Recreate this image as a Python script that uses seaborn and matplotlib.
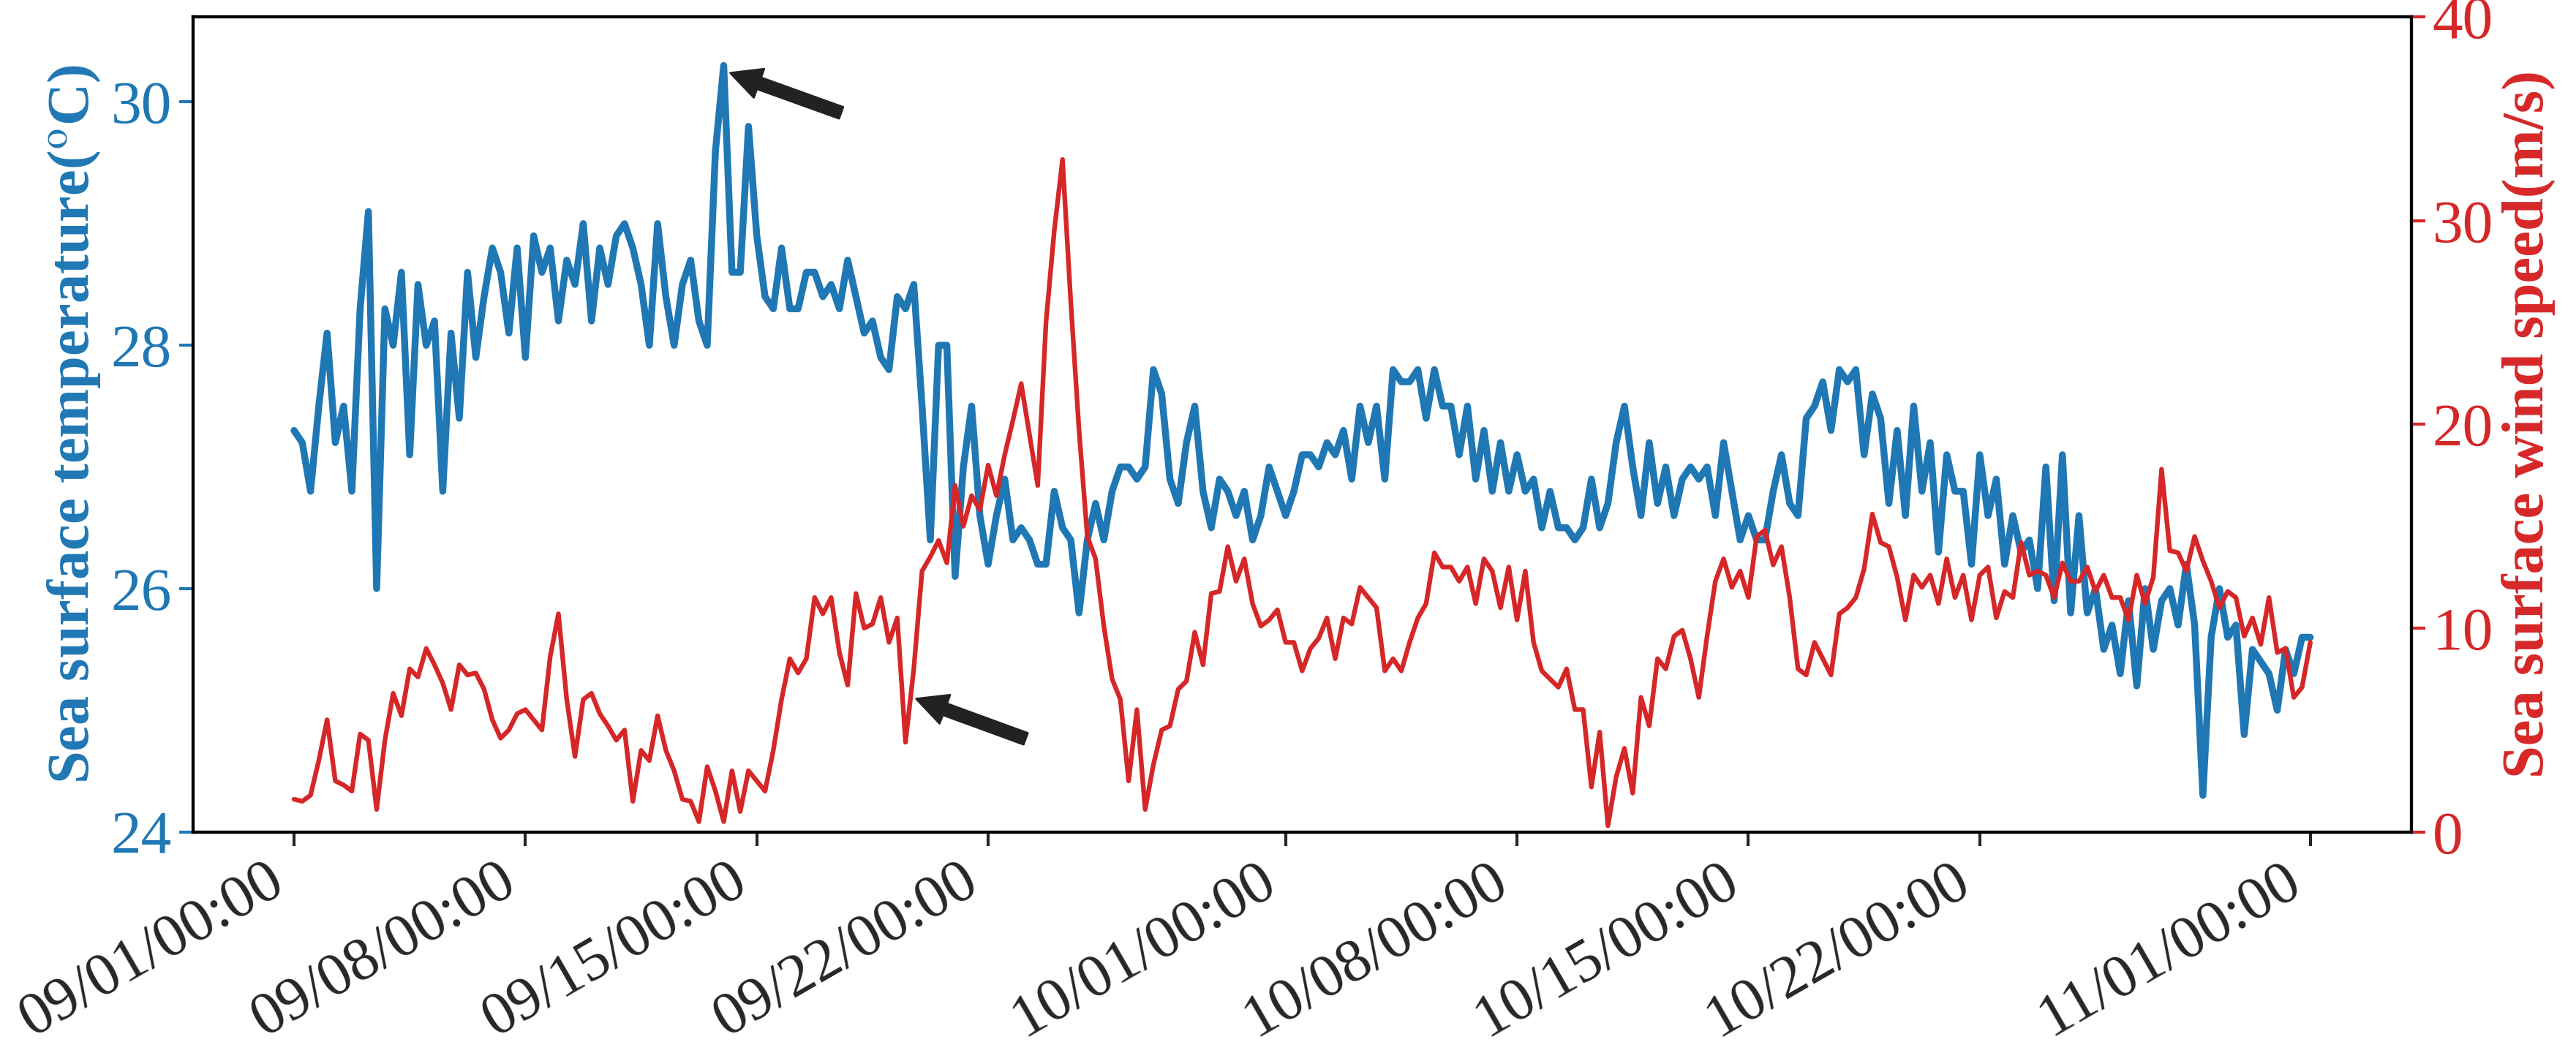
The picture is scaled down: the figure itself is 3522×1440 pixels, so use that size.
import numpy as np
import pandas as pd
import matplotlib
matplotlib.use("Agg")
import matplotlib.pyplot as plt
import matplotlib.dates as mdates
import seaborn as sns

# sea surface temperature, 4 readings per day (00, 06, 12, 18h), 09/01 -> 11/01
sst = [
    27.3, 27.2, 26.8, 27.5,   # 09/01
    28.1, 27.2, 27.5, 26.8,
    28.3, 29.1, 26.0, 28.3,
    28.0, 28.6, 27.1, 28.5,
    28.0, 28.2, 26.8, 28.1,
    27.4, 28.6, 27.9, 28.4,
    28.8, 28.6, 28.1, 28.8,
    27.9, 28.9, 28.6, 28.8,   # 09/08
    28.2, 28.7, 28.5, 29.0,
    28.2, 28.8, 28.5, 28.9,
    29.0, 28.8, 28.5, 28.0,
    29.0, 28.4, 28.0, 28.5,
    28.7, 28.2, 28.0, 29.6,
    30.3, 28.6, 28.6, 29.8,
    28.9, 28.4, 28.3, 28.8,   # 09/15
    28.3, 28.3, 28.6, 28.6,
    28.4, 28.5, 28.3, 28.7,
    28.4, 28.1, 28.2, 27.9,
    27.8, 28.4, 28.3, 28.5,
    27.5, 26.4, 28.0, 28.0,
    26.1, 27.0, 27.5, 26.6,
    26.2, 26.6, 26.9, 26.4,   # 09/22
    26.5, 26.4, 26.2, 26.2,
    26.8, 26.5, 26.4, 25.8,
    26.4, 26.7, 26.4, 26.8,
    27.0, 27.0, 26.9, 27.0,
    27.8, 27.6, 26.9, 26.7,
    27.2, 27.5, 26.8, 26.5,
    26.9, 26.8, 26.6, 26.8,
    26.4, 26.6, 27.0, 26.8,
    26.6, 26.8, 27.1, 27.1,   # 10/01
    27.0, 27.2, 27.1, 27.3,
    26.9, 27.5, 27.2, 27.5,
    26.9, 27.8, 27.7, 27.7,
    27.8, 27.4, 27.8, 27.5,
    27.5, 27.1, 27.5, 26.9,
    27.3, 26.8, 27.2, 26.8,
    27.1, 26.8, 26.9, 26.5,   # 10/08
    26.8, 26.5, 26.5, 26.4,
    26.5, 26.9, 26.5, 26.7,
    27.2, 27.5, 27.0, 26.6,
    27.2, 26.7, 27.0, 26.6,
    26.9, 27.0, 26.9, 27.0,
    26.6, 27.2, 26.8, 26.4,
    26.6, 26.4, 26.4, 26.8,   # 10/15
    27.1, 26.7, 26.6, 27.4,
    27.5, 27.7, 27.3, 27.8,
    27.7, 27.8, 27.1, 27.6,
    27.4, 26.7, 27.3, 26.6,
    27.5, 26.8, 27.2, 26.3,
    27.1, 26.8, 26.8, 26.2,
    27.1, 26.6, 26.9, 26.2,   # 10/22
    26.6, 26.3, 26.4, 26.0,
    27.0, 25.9, 27.1, 25.8,
    26.6, 25.8, 26.0, 25.5,
    25.7, 25.3, 25.9, 25.2,
    26.0, 25.5, 25.9, 26.0,
    25.7, 26.2, 25.7, 24.3,
    25.6, 26.0, 25.6, 25.7,
    24.8, 25.5, 25.4, 25.3,
    25.0, 25.5, 25.3, 25.6,
    25.6,                     # 11/01
]

# sea surface wind speed (m/s), same time grid
wind = [
    1.6, 1.5, 1.8, 3.5,   # 09/01
    5.5, 2.5, 2.3, 2.0,
    4.8, 4.5, 1.1, 4.5,
    6.8, 5.7, 8.0, 7.6,
    9.0, 8.2, 7.3, 6.0,
    8.2, 7.7, 7.8, 7.0,
    5.5, 4.6, 5.0, 5.8,
    6.0, 5.5, 5.0, 8.6,   # 09/08
    10.7, 6.5, 3.7, 6.5,
    6.8, 5.8, 5.2, 4.5,
    5.0, 1.5, 4.0, 3.5,
    5.7, 4.0, 3.0, 1.6,
    1.5, 0.5, 3.2, 2.0,
    0.5, 3.0, 1.0, 3.0,
    2.5, 2.0, 4.0, 6.5,   # 09/15
    8.5, 7.8, 8.5, 11.5,
    10.7, 11.5, 8.8, 7.2,
    11.7, 10.0, 10.2, 11.5,
    9.3, 10.5, 4.4, 8.0,
    12.8, 13.5, 14.3, 13.2,
    17.0, 15.0, 16.5, 15.8,
    18.0, 16.5, 18.5, 20.2,   # 09/22
    22.0, 19.5, 17.0, 25.0,
    29.5, 33.0, 26.0, 19.7,
    14.5, 13.4, 10.1, 7.5,
    6.5, 2.5, 6.0, 1.1,
    3.3, 5.0, 5.2, 7.0,
    7.4, 9.8, 8.2, 11.7,
    11.8, 14.0, 12.3, 13.4,
    11.2, 10.1, 10.4, 10.9,
    9.3, 9.3, 7.9, 9.0,   # 10/01
    9.5, 10.5, 8.5, 10.5,
    10.2, 12.0, 11.5, 11.0,
    7.9, 8.5, 7.9, 9.3,
    10.5, 11.2, 13.7, 13.0,
    13.0, 12.3, 13.0, 11.2,
    13.4, 12.8, 11.0, 13.0,
    10.4, 12.8, 9.3, 7.9,   # 10/08
    7.5, 7.1, 8.0, 6.0,
    6.0, 2.2, 4.9, 0.3,
    2.7, 4.1, 1.9, 6.6,
    5.2, 8.5, 8.0, 9.6,
    9.9, 8.5, 6.6, 9.6,
    12.3, 13.4, 12.0, 12.8,
    11.5, 14.5, 14.8, 13.1,   # 10/15
    14.0, 11.5, 8.0, 7.7,
    9.3, 8.5, 7.7, 10.7,
    11.0, 11.5, 12.9, 15.6,
    14.2, 14.0, 12.5, 10.4,
    12.6, 12.0, 12.6, 11.2,
    13.4, 11.5, 12.6, 10.4,
    12.6, 13.0, 10.5, 11.8,   # 10/22
    11.5, 14.2, 12.6, 12.8,
    12.6, 11.5, 13.2, 12.3,
    12.3, 13.0, 11.8, 12.6,
    11.5, 11.5, 10.4, 12.6,
    11.2, 12.5, 17.8, 13.8,
    13.7, 12.8, 14.5, 13.3,
    12.3, 11.0, 11.8, 11.5,
    9.6, 10.5, 9.2, 11.5,
    8.8, 9.0, 6.6, 7.1,
    9.3,                  # 11/01
]

times = pd.date_range("2023-09-01 00:00", periods=len(sst), freq="6h")
df = pd.DataFrame({"time": times, "sst": sst, "wind": wind})

tick_dates = pd.to_datetime(["2023-09-01", "2023-09-08", "2023-09-15", "2023-09-22",
                             "2023-10-01", "2023-10-08", "2023-10-15", "2023-10-22",
                             "2023-11-01"])

# arrow annotations: (target, text position)
arrow_sst = (pd.Timestamp("2023-09-14 02:00"), 30.25, pd.Timestamp("2023-09-17 16:00"), 29.9)
arrow_wind = (pd.Timestamp("2023-09-19 17:00"), 6.6, pd.Timestamp("2023-09-23 06:00"), 4.5)

blue = "#1f77b4"
red = "#d62728"

sns.set_style("ticks")
plt.rcParams["font.family"] = ["Liberation Serif", "DejaVu Serif"]
plt.rcParams["mathtext.fontset"] = "stix"

fig, ax = plt.subplots(figsize=(17.61, 7.2), dpi=200)
fig.subplots_adjust(left=0.075, right=0.936, top=0.984, bottom=0.21)

sns.lineplot(data=df, x="time", y="sst", ax=ax, color=blue, linewidth=3.4)
ax.set_ylim(24, 30.7)
ax.set_yticks([24, 26, 28, 30])
ax.set_ylabel("Sea surface temperature($^{\\mathrm{o}}$C)", color=blue,
              fontsize=29, fontweight="bold")
ax.tick_params(axis="y", colors=blue, labelsize=30, width=1.5, length=7)
ax.tick_params(axis="x", labelsize=30, width=1.5, length=7)

ax2 = ax.twinx()
sns.lineplot(data=df, x="time", y="wind", ax=ax2, color=red, linewidth=2.3)
ax2.set_ylim(0, 40)
ax2.set_yticks([0, 10, 20, 30, 40])
ax2.set_ylabel("Sea surface wind speed(m/s)", color=red, fontsize=29, fontweight="bold")
ax2.tick_params(axis="y", colors=red, labelsize=30, width=1.5, length=7)

ax.set_xticks(tick_dates)
ax.xaxis.set_major_formatter(mdates.DateFormatter("%m/%d/%H:%M"))
ax.set_xlabel("")
for lbl in ax.get_xticklabels():
    lbl.set_rotation(30)
    lbl.set_ha("right")

for a in (ax, ax2):
    for s in a.spines.values():
        s.set_linewidth(1.5)
        s.set_color("black")

style = "simple,head_length=1.5,head_width=1.5,tail_width=0.6"
tx, ty, hx, hy = arrow_sst
ax.annotate("", xy=(tx, ty), xytext=(hx, hy),
            arrowprops=dict(arrowstyle=style, color="#222222"))
tx, ty, hx, hy = arrow_wind
ax2.annotate("", xy=(tx, ty), xytext=(hx, hy),
             arrowprops=dict(arrowstyle=style, color="#222222"))

fig.savefig("out.png", dpi=200)
